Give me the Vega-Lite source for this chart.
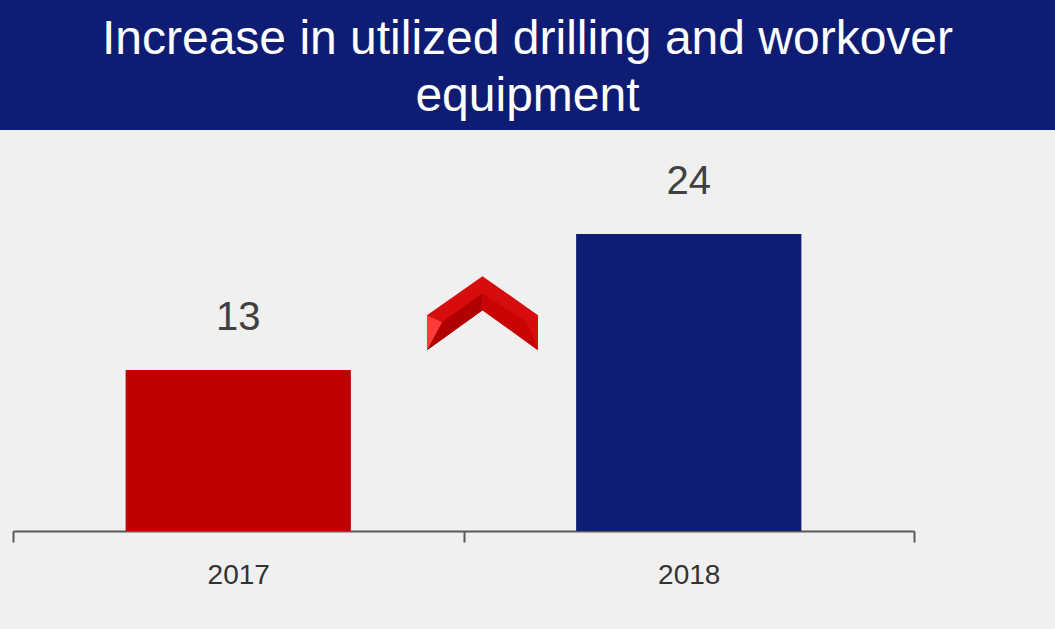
{
  "$schema": "https://vega.github.io/schema/vega-lite/v6.json",
  "background": "#f0f0f0",
  "padding": 0,
  "spacing": 0,
  "config": {
    "font": "Liberation Sans",
    "view": {"stroke": null}
  },
  "vconcat": [
    {
      "width": 1055,
      "height": 130,
      "view": {"fill": "#0e1d73", "stroke": null},
      "data": {"values": [{"title": "Increase in utilized drilling and workover\nequipment"}]},
      "mark": {"type": "text", "lineBreak": "\n", "fontSize": 48, "lineHeight": 57, "color": "#ffffff", "align": "center", "baseline": "middle", "dy": -25, "font": "Liberation Sans"},
      "encoding": {"text": {"field": "title", "type": "nominal"}}
    },
    {
      "width": 1055,
      "height": 401,
      "layer": [
        {
          "data": {"values": [{"year": "2017", "value": 13}, {"year": "2018", "value": 24}]},
          "mark": {"type": "bar", "width": {"band": 0.5}},
          "encoding": {
            "x": {
              "field": "year", "type": "nominal",
              "scale": {"paddingInner": 0, "paddingOuter": 0, "range": [13, 914]},
              "axis": {
                "title": null, "labelAngle": 0, "labelFontSize": 28, "labelColor": "#333333",
                "domainColor": "#595959", "domainWidth": 2, "tickColor": "#595959", "tickWidth": 2,
                "tickSize": 11, "tickBand": "extent", "labelPadding": 19, "minExtent": 98, "maxExtent": 98,
                "grid": false
              }
            },
            "y": {"field": "value", "type": "quantitative", "scale": {"domain": [0, 32.4], "nice": false, "zero": true}, "axis": null},
            "color": {"field": "year", "type": "nominal", "scale": {"domain": ["2017", "2018"], "range": ["#c00000", "#0e1d73"]}, "legend": null}
          }
        },
        {
          "data": {"values": [{"year": "2017", "value": 13}, {"year": "2018", "value": 24}]},
          "mark": {"type": "text", "fontSize": 40, "color": "#404040", "baseline": "alphabetic", "dy": -40},
          "encoding": {
            "x": {"field": "year", "type": "nominal"},
            "y": {"field": "value", "type": "quantitative"},
            "text": {"field": "value", "type": "quantitative"}
          }
        },
        {
          "data": {"values": [{"year": "2017", "level": 17.6}]},
          "mark": {"type": "point", "filled": true, "opacity": 1, "size": 12321, "strokeWidth": 0, "color": "#d70c0c",
            "shape": "M 0.342 -0.667 L 1.342 0.036 L 1.342 0.667 L 0.342 -0.054 L -0.658 0.667 L -0.658 0.036 Z"},
          "encoding": {
            "x": {"field": "year", "type": "nominal", "bandPosition": 1},
            "y": {"field": "level", "type": "quantitative"}
          }
        },
        {
          "data": {"values": [{"year": "2017", "level": 17.6}]},
          "mark": {"type": "point", "filled": true, "opacity": 1, "size": 12321, "strokeWidth": 0, "color": "#b00000",
            "shape": "M 0.342 -0.36 L -0.388 0.162 L -0.658 0.667 L 0.342 -0.054 Z"},
          "encoding": {
            "x": {"field": "year", "type": "nominal", "bandPosition": 1},
            "y": {"field": "level", "type": "quantitative"}
          }
        },
        {
          "data": {"values": [{"year": "2017", "level": 17.6}]},
          "mark": {"type": "point", "filled": true, "opacity": 1, "size": 12321, "strokeWidth": 0, "color": "#c80404",
            "shape": "M 0.342 -0.36 L 1.144 0.162 L 1.342 0.667 L 0.342 -0.054 Z"},
          "encoding": {
            "x": {"field": "year", "type": "nominal", "bandPosition": 1},
            "y": {"field": "level", "type": "quantitative"}
          }
        },
        {
          "data": {"values": [{"year": "2017", "level": 17.6}]},
          "mark": {"type": "point", "filled": true, "opacity": 1, "size": 12321, "strokeWidth": 0, "color": "#ff3a3a",
            "shape": "M -0.658 0.036 L -0.388 0.162 L -0.658 0.667 Z"},
          "encoding": {
            "x": {"field": "year", "type": "nominal", "bandPosition": 1},
            "y": {"field": "level", "type": "quantitative"}
          }
        }
      ]
    }
  ]
}
